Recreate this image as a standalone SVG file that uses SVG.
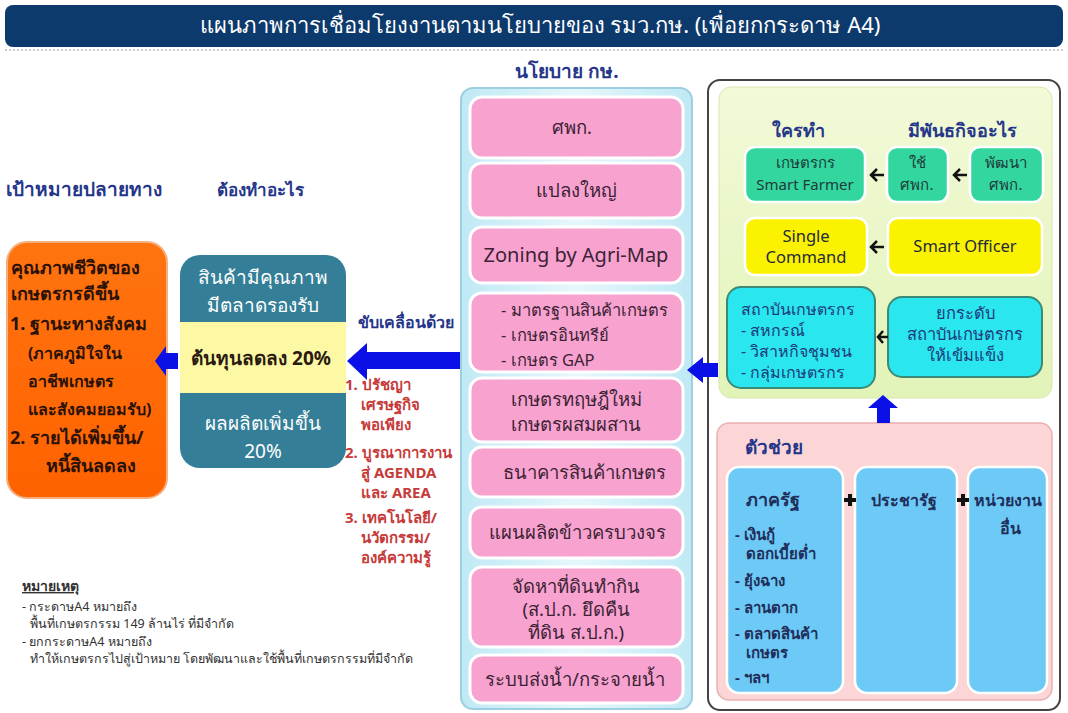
<svg xmlns="http://www.w3.org/2000/svg" width="1068" height="713" viewBox="0 0 1068 713">
<defs>
<style>
text{font-family:"Noto Sans","DejaVu Sans",sans-serif;}
.h{fill:#25368a;font-weight:bold;font-size:18px;}
.pk{fill:#f8a3cf;stroke:#ffffff;stroke-width:3;}
.pt{fill:#3b2235;font-size:18.5px;text-anchor:middle;}
.pl{fill:#3b2235;font-size:16.5px;}
.ot{fill:#2a1208;font-weight:bold;font-size:18px;}
.oi{fill:#2a1208;font-weight:bold;font-size:16px;}
.wt{fill:#ffffff;font-size:19px;text-anchor:middle;}
.rt{fill:#c63a3a;font-weight:bold;font-size:15px;}
.gt{fill:#1f3a3a;font-size:15px;text-anchor:middle;}
.yt{fill:#1f2a3a;font-size:16.5px;text-anchor:middle;}
.ct{fill:#1f3a7a;font-size:16px;}
.cc{fill:#1f3a7a;font-size:16.5px;text-anchor:middle;}
.bt{fill:#1f2e5a;font-weight:bold;font-size:15px;}
.bh{fill:#1f2e5a;font-weight:bold;font-size:16px;text-anchor:middle;}
.nt{fill:#333333;font-size:12.5px;}
.ba{fill:#0a10e6;}
.sa{fill:none;stroke:#111111;stroke-width:2.5;}
</style>
<linearGradient id="midg" x1="0" y1="0" x2="1" y2="0">
<stop offset="0" stop-color="#bfe9f5"/><stop offset="0.5" stop-color="#e6f7fb"/><stop offset="1" stop-color="#bfe9f5"/>
</linearGradient>
<linearGradient id="orag" x1="0" y1="0" x2="0" y2="1">
<stop offset="0" stop-color="#ff7410"/><stop offset="1" stop-color="#ff6200"/>
</linearGradient>
<linearGradient id="greg" x1="0" y1="0" x2="0" y2="1">
<stop offset="0" stop-color="#f2fad8"/><stop offset="1" stop-color="#e2f3b8"/>
</linearGradient>
</defs>
<rect x="0" y="0" width="1068" height="713" fill="#ffffff"/>

<g id="title">
<rect x="5" y="5" width="1058" height="42" rx="8" fill="#0d3a6c"/>
<line x1="5" y1="50" x2="1063" y2="50" stroke="#cccccc" stroke-width="2" stroke-dasharray="2 2"/>
<text x="540" y="33" fill="#ffffff" style="font-size:22px" text-anchor="middle">แผนภาพการเชื่อมโยงงานตามนโยบายของ รมว.กษ. (เพื่อยกกระดาษ A4)</text>
</g>

<g id="headings">
<text class="h" x="567" y="78" text-anchor="middle" style="font-size:19px">นโยบาย กษ.</text>
<text class="h" x="84" y="196" text-anchor="middle" style="font-size:19px">เป้าหมายปลายทาง</text>
<text class="h" x="260" y="196" text-anchor="middle" style="font-size:17px">ต้องทำอะไร</text>
<text class="h" x="406" y="328" text-anchor="middle" style="font-size:16px">ขับเคลื่อนด้วย</text>
</g>

<g id="goal">
<rect x="7" y="242" width="160" height="256" rx="20" fill="url(#orag)" stroke="#f5b080" stroke-width="2"/>
<text class="ot" x="11" y="274">คุณภาพชีวิตของ</text>
<text class="ot" x="11" y="300">เกษตรกรดีขึ้น</text>
<text class="ot" x="10" y="330">1. ฐานะทางสังคม</text>
<text class="oi" x="28" y="359">(ภาคภูมิใจใน</text>
<text class="oi" x="28" y="387">อาชีพเกษตร</text>
<text class="oi" x="28" y="415">และสังคมยอมรับ)</text>
<text class="ot" x="10" y="444">2. รายได้เพิ่มขึ้น/</text>
<text class="ot" x="46" y="472">หนี้สินลดลง</text>
</g>

<g id="todo">
<rect x="180" y="255" width="166" height="213" rx="20" fill="#347e98"/>
<rect x="180" y="322" width="166" height="71" fill="#fdf8a4"/>
<text class="wt" x="263" y="284">สินค้ามีคุณภาพ</text>
<text class="wt" x="263" y="312">มีตลาดรองรับ</text>
<text x="261" y="365" fill="#2a1a10" font-weight="bold" style="font-size:19px" text-anchor="middle">ต้นทุนลดลง 20%</text>
<text class="wt" x="263" y="430">ผลผลิตเพิ่มขึ้น</text>
<text class="wt" x="263" y="458">20%</text>
</g>

<g id="drivers">
<text class="rt" x="345" y="390">1. ปรัชญา</text>
<text class="rt" x="361" y="410">เศรษฐกิจ</text>
<text class="rt" x="361" y="430">พอเพียง</text>
<text class="rt" x="345" y="458">2. บูรณาการงาน</text>
<text class="rt" x="361" y="478">สู่ AGENDA</text>
<text class="rt" x="361" y="498">และ AREA</text>
<text class="rt" x="345" y="523">3. เทคโนโลยี/</text>
<text class="rt" x="361" y="543">นวัตกรรม/</text>
<text class="rt" x="361" y="563">องค์ความรู้</text>
</g>

<g id="notes">
<text class="nt" x="22" y="591" font-weight="bold" style="font-size:14px" text-decoration="underline">หมายเหตุ</text>
<text class="nt" x="22" y="611">- กระดาษA4 หมายถึง</text>
<text class="nt" x="30" y="628">พื้นที่เกษตรกรรม 149 ล้านไร่ ที่มีจำกัด</text>
<text class="nt" x="22" y="646">- ยกกระดาษA4 หมายถึง</text>
<text class="nt" x="30" y="663">ทำให้เกษตรกรไปสู่เป้าหมาย โดยพัฒนาและใช้พื้นที่เกษตรกรรมที่มีจำกัด</text>
</g>

<g id="policy">
<rect x="461" y="88" width="231" height="621" rx="12" fill="url(#midg)" stroke="#9ccfe0" stroke-width="2"/>
<rect class="pk" x="470" y="97" width="213" height="61" rx="12"/>
<text class="pt" x="572" y="134">ศพก.</text>
<rect class="pk" x="470" y="163" width="213" height="55" rx="12"/>
<text class="pt" x="576" y="197">แปลงใหญ่</text>
<rect class="pk" x="470" y="227" width="213" height="56" rx="12"/>
<text class="pt" x="576" y="262" style="font-size:20px">Zoning by Agri-Map</text>
<rect class="pk" x="470" y="293" width="213" height="79" rx="12"/>
<text class="pl" x="501" y="316">- มาตรฐานสินค้าเกษตร</text>
<text class="pl" x="501" y="341">- เกษตรอินทรีย์</text>
<text class="pl" x="501" y="366">- เกษตร GAP</text>
<rect class="pk" x="470" y="378" width="213" height="64" rx="12"/>
<text class="pt" x="576" y="406">เกษตรทฤษฎีใหม่</text>
<text class="pt" x="576" y="431">เกษตรผสมผสาน</text>
<rect class="pk" x="470" y="447" width="213" height="50" rx="12"/>
<text class="pt" x="584" y="479">ธนาคารสินค้าเกษตร</text>
<rect class="pk" x="470" y="507" width="213" height="51" rx="12"/>
<text class="pt" x="577" y="539">แผนผลิตข้าวครบวงจร</text>
<rect class="pk" x="470" y="567" width="213" height="80" rx="12"/>
<text class="pt" x="576" y="593">จัดหาที่ดินทำกิน</text>
<text class="pt" x="576" y="616">(ส.ป.ก. ยึดคืน</text>
<text class="pt" x="576" y="639">ที่ดิน ส.ป.ก.)</text>
<rect class="pk" x="470" y="655" width="213" height="48" rx="12"/>
<text class="pt" x="575" y="686">ระบบส่งน้ำ/กระจายน้ำ</text>
</g>

<g id="right">
<rect x="708" y="80" width="352" height="630" rx="12" fill="#ffffff" stroke="#444444" stroke-width="2"/>
</g>

<g id="who">
<rect x="719" y="87" width="333" height="311" rx="12" fill="url(#greg)" stroke="#d8e8b0" stroke-width="1"/>
<text class="h" x="798" y="137" text-anchor="middle">ใครทำ</text>
<text class="h" x="962" y="137" text-anchor="middle">มีพันธกิจอะไร</text>
</g>

<g id="smartfarmer">
<rect x="745" y="147" width="120" height="55" rx="10" fill="#33d69e" stroke="#ffffff" stroke-width="2.5"/>
<text class="gt" x="805" y="168">เกษตรกร</text>
<text class="gt" x="805" y="190">Smart Farmer</text>
</g>
<g id="use">
<rect x="887" y="147" width="61" height="55" rx="10" fill="#33d69e" stroke="#ffffff" stroke-width="2.5"/>
<text class="gt" x="917" y="168">ใช้</text>
<text class="gt" x="917" y="190">ศพก.</text>
</g>
<g id="develop">
<rect x="970" y="147" width="73" height="55" rx="10" fill="#33d69e" stroke="#ffffff" stroke-width="2.5"/>
<text class="gt" x="1006" y="168">พัฒนา</text>
<text class="gt" x="1006" y="190">ศพก.</text>
</g>
<g id="singlecommand">
<rect x="745" y="218" width="122" height="57" rx="10" fill="#fbf200" stroke="#ffffff" stroke-width="2.5"/>
<text class="yt" x="806" y="242">Single</text>
<text class="yt" x="806" y="263">Command</text>
</g>
<g id="smartofficer">
<rect x="888" y="218" width="154" height="57" rx="10" fill="#fbf200" stroke="#ffffff" stroke-width="2.5"/>
<text class="yt" x="965" y="252">Smart Officer</text>
</g>
<g id="institute">
<rect x="727" y="287" width="148" height="101" rx="14" fill="#2ae6ee" stroke="#3a8a78" stroke-width="2"/>
<text class="ct" x="741" y="315">สถาบันเกษตรกร</text>
<text class="ct" x="741" y="336">- สหกรณ์</text>
<text class="ct" x="741" y="357">- วิสาหกิจชุมชน</text>
<text class="ct" x="741" y="378">- กลุ่มเกษตรกร</text>
</g>
<g id="upgrade">
<rect x="888" y="297" width="154" height="80" rx="14" fill="#2ae6ee" stroke="#3a8a78" stroke-width="2"/>
<text class="cc" x="965" y="319">ยกระดับ</text>
<text class="cc" x="965" y="340">สถาบันเกษตรกร</text>
<text class="cc" x="965" y="361">ให้เข้มแข็ง</text>
</g>

<g id="helpers">
<rect x="717" y="423" width="335" height="277" rx="12" fill="#fcd6d6" stroke="#eab0b0" stroke-width="1.5"/>
<text class="h" x="745" y="454" style="font-size:19px">ตัวช่วย</text>
</g>
<g id="state">
<rect x="727" y="467" width="116" height="226" rx="12" fill="#6dc9f5" stroke="#ffffff" stroke-width="2.5"/>
<text class="bt" x="746" y="506" style="font-size:18px">ภาครัฐ</text>
<text class="bt" x="735" y="540">- เงินกู้</text>
<text class="bt" x="746" y="559">ดอกเบี้ยต่ำ</text>
<text class="bt" x="735" y="586">- ยุ้งฉาง</text>
<text class="bt" x="735" y="613">- ลานตาก</text>
<text class="bt" x="735" y="639">- ตลาดสินค้า</text>
<text class="bt" x="746" y="658">เกษตร</text>
<text class="bt" x="735" y="683">- ฯลฯ</text>
</g>
<g id="civil">
<rect x="855" y="467" width="102" height="226" rx="12" fill="#6dc9f5" stroke="#ffffff" stroke-width="2.5"/>
<text class="bh" x="904" y="506">ประชารัฐ</text>
</g>
<g id="others">
<rect x="968" y="467" width="79" height="226" rx="12" fill="#6dc9f5" stroke="#ffffff" stroke-width="2.5"/>
<text class="bh" x="1008" y="506">หน่วยงาน</text>
<text class="bh" x="1010" y="534">อื่น</text>
</g>

<g id="connectors">
<path class="ba" d="M155,361 L166,346 L166,353 L178,353 L178,369 L166,369 L166,376 Z"/>
<path class="ba" d="M347,361 L367,343 L367,352 L460,352 L460,369 L367,369 L367,380 Z"/>
<path class="ba" d="M687,370 L703,357 L703,363 L718,363 L718,377 L703,377 L703,383 Z"/>
<path class="ba" d="M883,395 L898,408 L890,408 L890,423 L877,423 L877,408 L868,408 Z"/>
<path class="sa" d="M884,175 L871,175 M877,169 L871,175 L877,181"/>
<path class="sa" d="M967,175 L954,175 M960,169 L954,175 L960,181"/>
<path class="sa" d="M884,247 L871,247 M877,241 L871,247 L877,253"/>
<path class="sa" d="M888,337 L878,337 M883,331 L878,337 L883,343"/>
<path d="M844,500 L856,500 M850,494 L850,506" stroke="#111111" stroke-width="4"/>
<path d="M957,500 L969,500 M963,494 L963,506" stroke="#111111" stroke-width="4"/>
</g>
</svg>
